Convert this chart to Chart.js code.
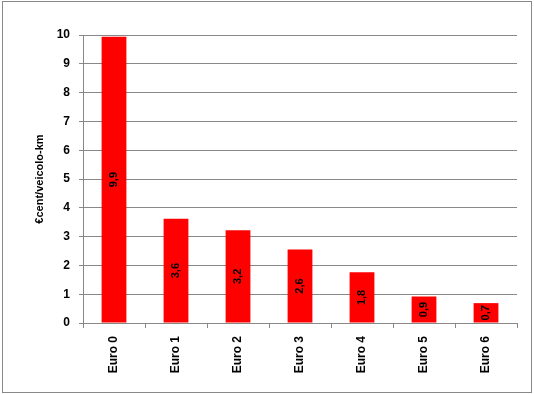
<!DOCTYPE html>
<html>
<head>
<meta charset="utf-8">
<script src="https://cdn.jsdelivr.net/npm/chart.js@4"></script>
<style>
  html, body { margin: 0; padding: 0; background: #fff; }
  #wrap { width: 534px; height: 394px; }
</style>
</head>
<body>
<div id="wrap"><canvas id="myChart" width="534" height="394"></canvas></div>
<script>
// Dati
const categorie = ['Euro 0', 'Euro 1', 'Euro 2', 'Euro 3', 'Euro 4', 'Euro 5', 'Euro 6'];
const valori = [9.94, 3.62, 3.22, 2.55, 1.76, 0.92, 0.69];
const etichette = ['9,9', '3,6', '3,2', '2,6', '1,8', '0,9', '0,7'];
const yTicks = [0, 1, 2, 3, 4, 5, 6, 7, 8, 9, 10];

// Etichette dentro le barre, ruotate
const barLabels = {
    id: 'barLabels',
    afterDatasetsDraw(chart) {
        const ctx = chart.ctx;
        const meta = chart.getDatasetMeta(0);
        ctx.save();
        ctx.font = 'bold 11px "Liberation Sans", Arial, sans-serif';
        ctx.fillStyle = '#000';
        ctx.textAlign = 'center';
        ctx.textBaseline = 'middle';
        meta.data.forEach((bar, i) => {
            const yMid = (bar.y + bar.base) / 2;
            ctx.save();
            ctx.translate(bar.x, yMid);
            ctx.rotate(-Math.PI / 2);
            ctx.fillText(etichette[i], 0, 0);
            ctx.restore();
        });
        ctx.restore();
    }
};

// Bordo esterno grigio
const cornice = {
    id: 'cornice',
    beforeDraw(chart) {
        const ctx = chart.ctx;
        ctx.save();
        ctx.fillStyle = '#fff';
        ctx.fillRect(0, 0, chart.width, chart.height);
        ctx.strokeStyle = '#888';
        ctx.lineWidth = 1;
        ctx.strokeRect(2.5, 1.5, 529, 391);
        ctx.restore();
    }
};

const ctx = document.getElementById('myChart').getContext('2d');
new Chart(ctx, {
    type: 'bar',
    data: {
        labels: categorie,
        datasets: [{
            data: valori,
            backgroundColor: '#ff0000',
            borderWidth: 0,
            barPercentage: 0.8,
            categoryPercentage: 0.5
        }]
    },
    options: {
        responsive: false,
        animation: false,
        layout: { padding: { left: 0, top: 35, right: 17, bottom: 0 } },
        plugins: {
            legend: { display: false },
            tooltip: { enabled: false }
        },
        scales: {
            x: {
                offset: true,
                afterFit(scale) { scale.height = 71; },
                grid: {
                    offset: true,
                    drawOnChartArea: false,
                    drawTicks: true,
                    tickLength: 5,
                    color: '#888'
                },
                border: { color: '#888' },
                ticks: {
                    minRotation: 90,
                    maxRotation: 90,
                    padding: 8,
                    color: '#000',
                    font: { family: '"Liberation Sans", Arial, sans-serif', size: 12, weight: 'bold' }
                }
            },
            y: {
                min: 0,
                max: 10,
                afterFit(scale) { scale.width = 83; },
                afterBuildTicks(scale) { scale.ticks = yTicks.map(v => ({ value: v })); },
                grid: {
                    color: '#888',
                    tickLength: 4
                },
                border: { color: '#888' },
                ticks: {
                    padding: 9,
                    color: '#000',
                    font: { family: '"Liberation Sans", Arial, sans-serif', size: 12, weight: 'bold' }
                },
                title: {
                    display: true,
                    text: '€cent/veicolo-km',
                    color: '#000',
                    padding: { top: 33, bottom: 0 },
                    font: { family: '"Liberation Sans", Arial, sans-serif', size: 11, weight: 'bold' }
                }
            }
        }
    },
    plugins: [cornice, barLabels]
});
</script>
</body>
</html>
